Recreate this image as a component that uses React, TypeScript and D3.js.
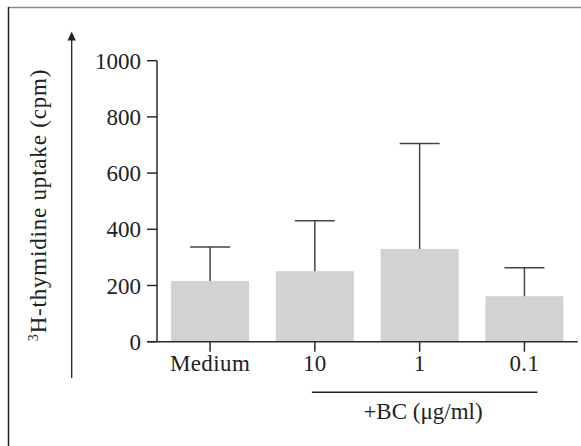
import React from "react";
import * as d3 from "d3";

const categories = ["Medium", "10", "1", "0.1"];
const means = [216, 251, 330, 162];
const sds = [121, 179, 375, 101];
const yTicks = [0, 200, 400, 600, 800, 1000];
const yTitle = "H-thymidine uptake (cpm)";
const groupLabel = "+BC (μg/ml)";

const W = 581;
const H = 446;
const FONT = "'Liberation Serif', 'Times New Roman', serif";

export default function App() {
  const y = d3.scaleLinear().domain([0, 1000]).range([341.7, 60.7]);
  const x = d3
    .scaleBand<string>()
    .domain(categories)
    .range([157, 577.5])
    .paddingInner(0.255)
    .paddingOuter(0.134);
  const bw = x.bandwidth();
  const axisColor = "#2a2a2a";
  const y0 = y(0);

  return (
    <svg
      width={W}
      height={H}
      style={{ position: "absolute", left: 0, top: 0, background: "#fff" }}
      fontFamily={FONT}
    >
      {/* frame */}
      <line x1={8} x2={W} y1={7.5} y2={7.5} stroke="#8a8a8a" strokeWidth={1.5} />
      <line x1={8.5} x2={8.5} y1={7} y2={H} stroke="#222" strokeWidth={1.5} />

      {/* arrow */}
      <line x1={71.7} x2={71.7} y1={378} y2={38} stroke="#222" strokeWidth={1.3} />
      <path d="M71.7,31.5 L67.6,40.5 L75.8,40.5 Z" fill="#222" />

      {/* y title */}
      <text
        transform={`translate(45.5,205) rotate(-90)`}
        textAnchor="middle"
        fontSize={23}
        letterSpacing={0.8}
        fill="#222"
      >
        <tspan fontSize={14} dy={-8}>3</tspan>
        <tspan dy={8}>{yTitle}</tspan>
      </text>

      {/* bars */}
      {categories.map((c, i) => (
        <rect
          key={c}
          x={x(c)}
          y={y(means[i])}
          width={bw}
          height={y0 - y(means[i])}
          fill="#d1d2d4"
        />
      ))}

      {/* error bars */}
      {categories.map((c, i) => {
        const cx = (x(c) as number) + bw / 2;
        const top = y(means[i] + sds[i]);
        return (
          <g key={c} stroke="#444" strokeWidth={1.5}>
            <line x1={cx} x2={cx} y1={y(means[i])} y2={top} />
            <line x1={cx - 20} x2={cx + 20} y1={top} y2={top} />
          </g>
        );
      })}

      {/* y axis */}
      <line x1={157} x2={157} y1={y(1000)} y2={y0} stroke={axisColor} strokeWidth={1.5} />
      {yTicks.map((t) => (
        <g key={t}>
          <line x1={147} x2={157} y1={y(t)} y2={y(t)} stroke={axisColor} strokeWidth={1.5} />
          <text
            x={141}
            y={y(t)}
            dy="0.35em"
            textAnchor="end"
            fontSize={23}
            fill="#222"
          >
            {t}
          </text>
        </g>
      ))}

      {/* x axis */}
      <line x1={147} x2={577.7} y1={y0} y2={y0} stroke={axisColor} strokeWidth={1.5} />
      {categories.map((c) => {
        const cx = (x(c) as number) + bw / 2;
        return (
          <g key={c}>
            <line x1={cx} x2={cx} y1={y0} y2={y0 + 10} stroke={axisColor} strokeWidth={1.5} />
            <text
              x={cx}
              y={371}
              textAnchor="middle"
              fontSize={23}
              letterSpacing={0.4}
              fill="#222"
            >
              {c}
            </text>
          </g>
        );
      })}

      {/* group bracket */}
      <line
        x1={(x("10") as number) + bw / 2 - 3}
        x2={(x("0.1") as number) + bw / 2 + 13}
        y1={392.3}
        y2={392.3}
        stroke="#222"
        strokeWidth={1.5}
      />
      <text x={423} y={419} textAnchor="middle" fontSize={23} fill="#222">
        {groupLabel}
      </text>
    </svg>
  );
}
